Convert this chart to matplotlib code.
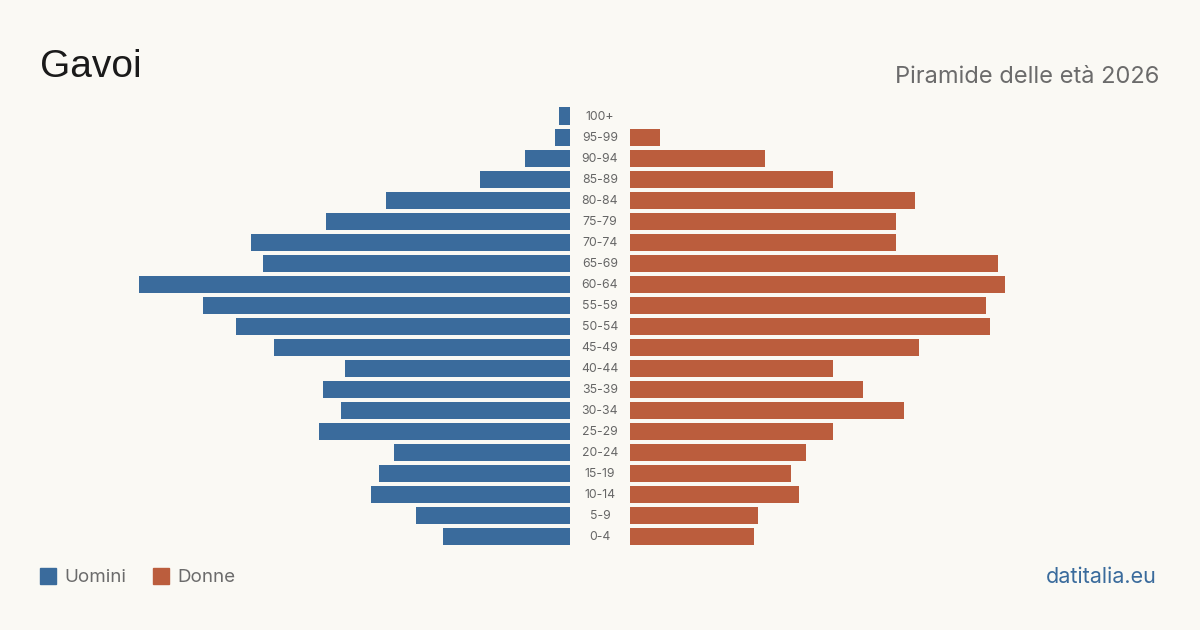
import matplotlib.pyplot as plt
from matplotlib.patches import Rectangle

plt.rcParams['font.family'] = ['Inter', 'DejaVu Sans']

# fasce d'età dal basso verso l'alto
eta = ['0-4', '5-9', '10-14', '15-19', '20-24', '25-29', '30-34', '35-39', '40-44',
       '45-49', '50-54', '55-59', '60-64', '65-69', '70-74', '75-79', '80-84',
       '85-89', '90-94', '95-99', '100+']
uomini = [34, 41, 53, 51, 47, 67, 61, 66, 60, 79, 89, 98, 115, 82, 85, 65, 49, 24, 12, 4, 3]
donne = [33, 34, 45, 43, 47, 54, 73, 62, 54, 77, 96, 95, 100, 98, 71, 71, 76, 54, 36, 8, 0]

BLU = '#3a6b9c'
ROSSO = '#bb5d3d'
SFONDO = '#faf9f4'

W, H = 1200, 630
fig = plt.figure(figsize=(12, 6.3), dpi=100, facecolor=SFONDO)

scala = 3.75  # pixel per persona
ax_b = 1 - 546.5 / H
ax_h = 441 / H
larg = 530

axl = fig.add_axes([(570 - larg) / W, ax_b, larg / W, ax_h])
axr = fig.add_axes([630 / W, ax_b, larg / W, ax_h])

y = list(range(len(eta)))
axl.barh(y, uomini, height=17 / 21, color=BLU)
axr.barh(y, donne, height=17 / 21, color=ROSSO)

axl.set_xlim(larg / scala, 0)
axr.set_xlim(0, larg / scala)
for ax in (axl, axr):
    ax.set_ylim(-0.5, len(eta) - 0.5)
    ax.axis('off')
    ax.set_facecolor('none')

# etichette centrali
for i, e in enumerate(eta):
    yp = 537 - i * 21
    fig.text(600 / W, 1 - yp / H, e, ha='center', va='center', fontsize=8.8, color='#666666')

fig.text(40 / W, 1 - 67 / H, 'Gavoi', fontsize=28, color='#1a1a1a', ha='left', va='center',
         family=['Liberation Sans', 'DejaVu Sans'])
fig.text(1159 / W, 1 - 77 / H, 'Piramide delle età 2026', fontsize=17, color='#6b6b6b',
         ha='right', va='center')

# legenda
fig.patches.append(Rectangle((40 / W, 1 - 584 / H), 16 / W, 16 / H, transform=fig.transFigure,
                             color=BLU))
fig.text(64 / W, 1 - 577 / H, 'Uomini', fontsize=13.5, color='#6b6b6b', ha='left', va='center')
fig.patches.append(Rectangle((153 / W, 1 - 584 / H), 16 / W, 16 / H, transform=fig.transFigure,
                             color=ROSSO))
fig.text(177 / W, 1 - 577 / H, 'Donne', fontsize=13.5, color='#6b6b6b', ha='left', va='center')

fig.text(1157 / W, 1 - 577 / H, 'datitalia.eu', fontsize=15.5, color=BLU, ha='right', va='center')

fig.savefig('out.png', dpi=100, facecolor=SFONDO)
